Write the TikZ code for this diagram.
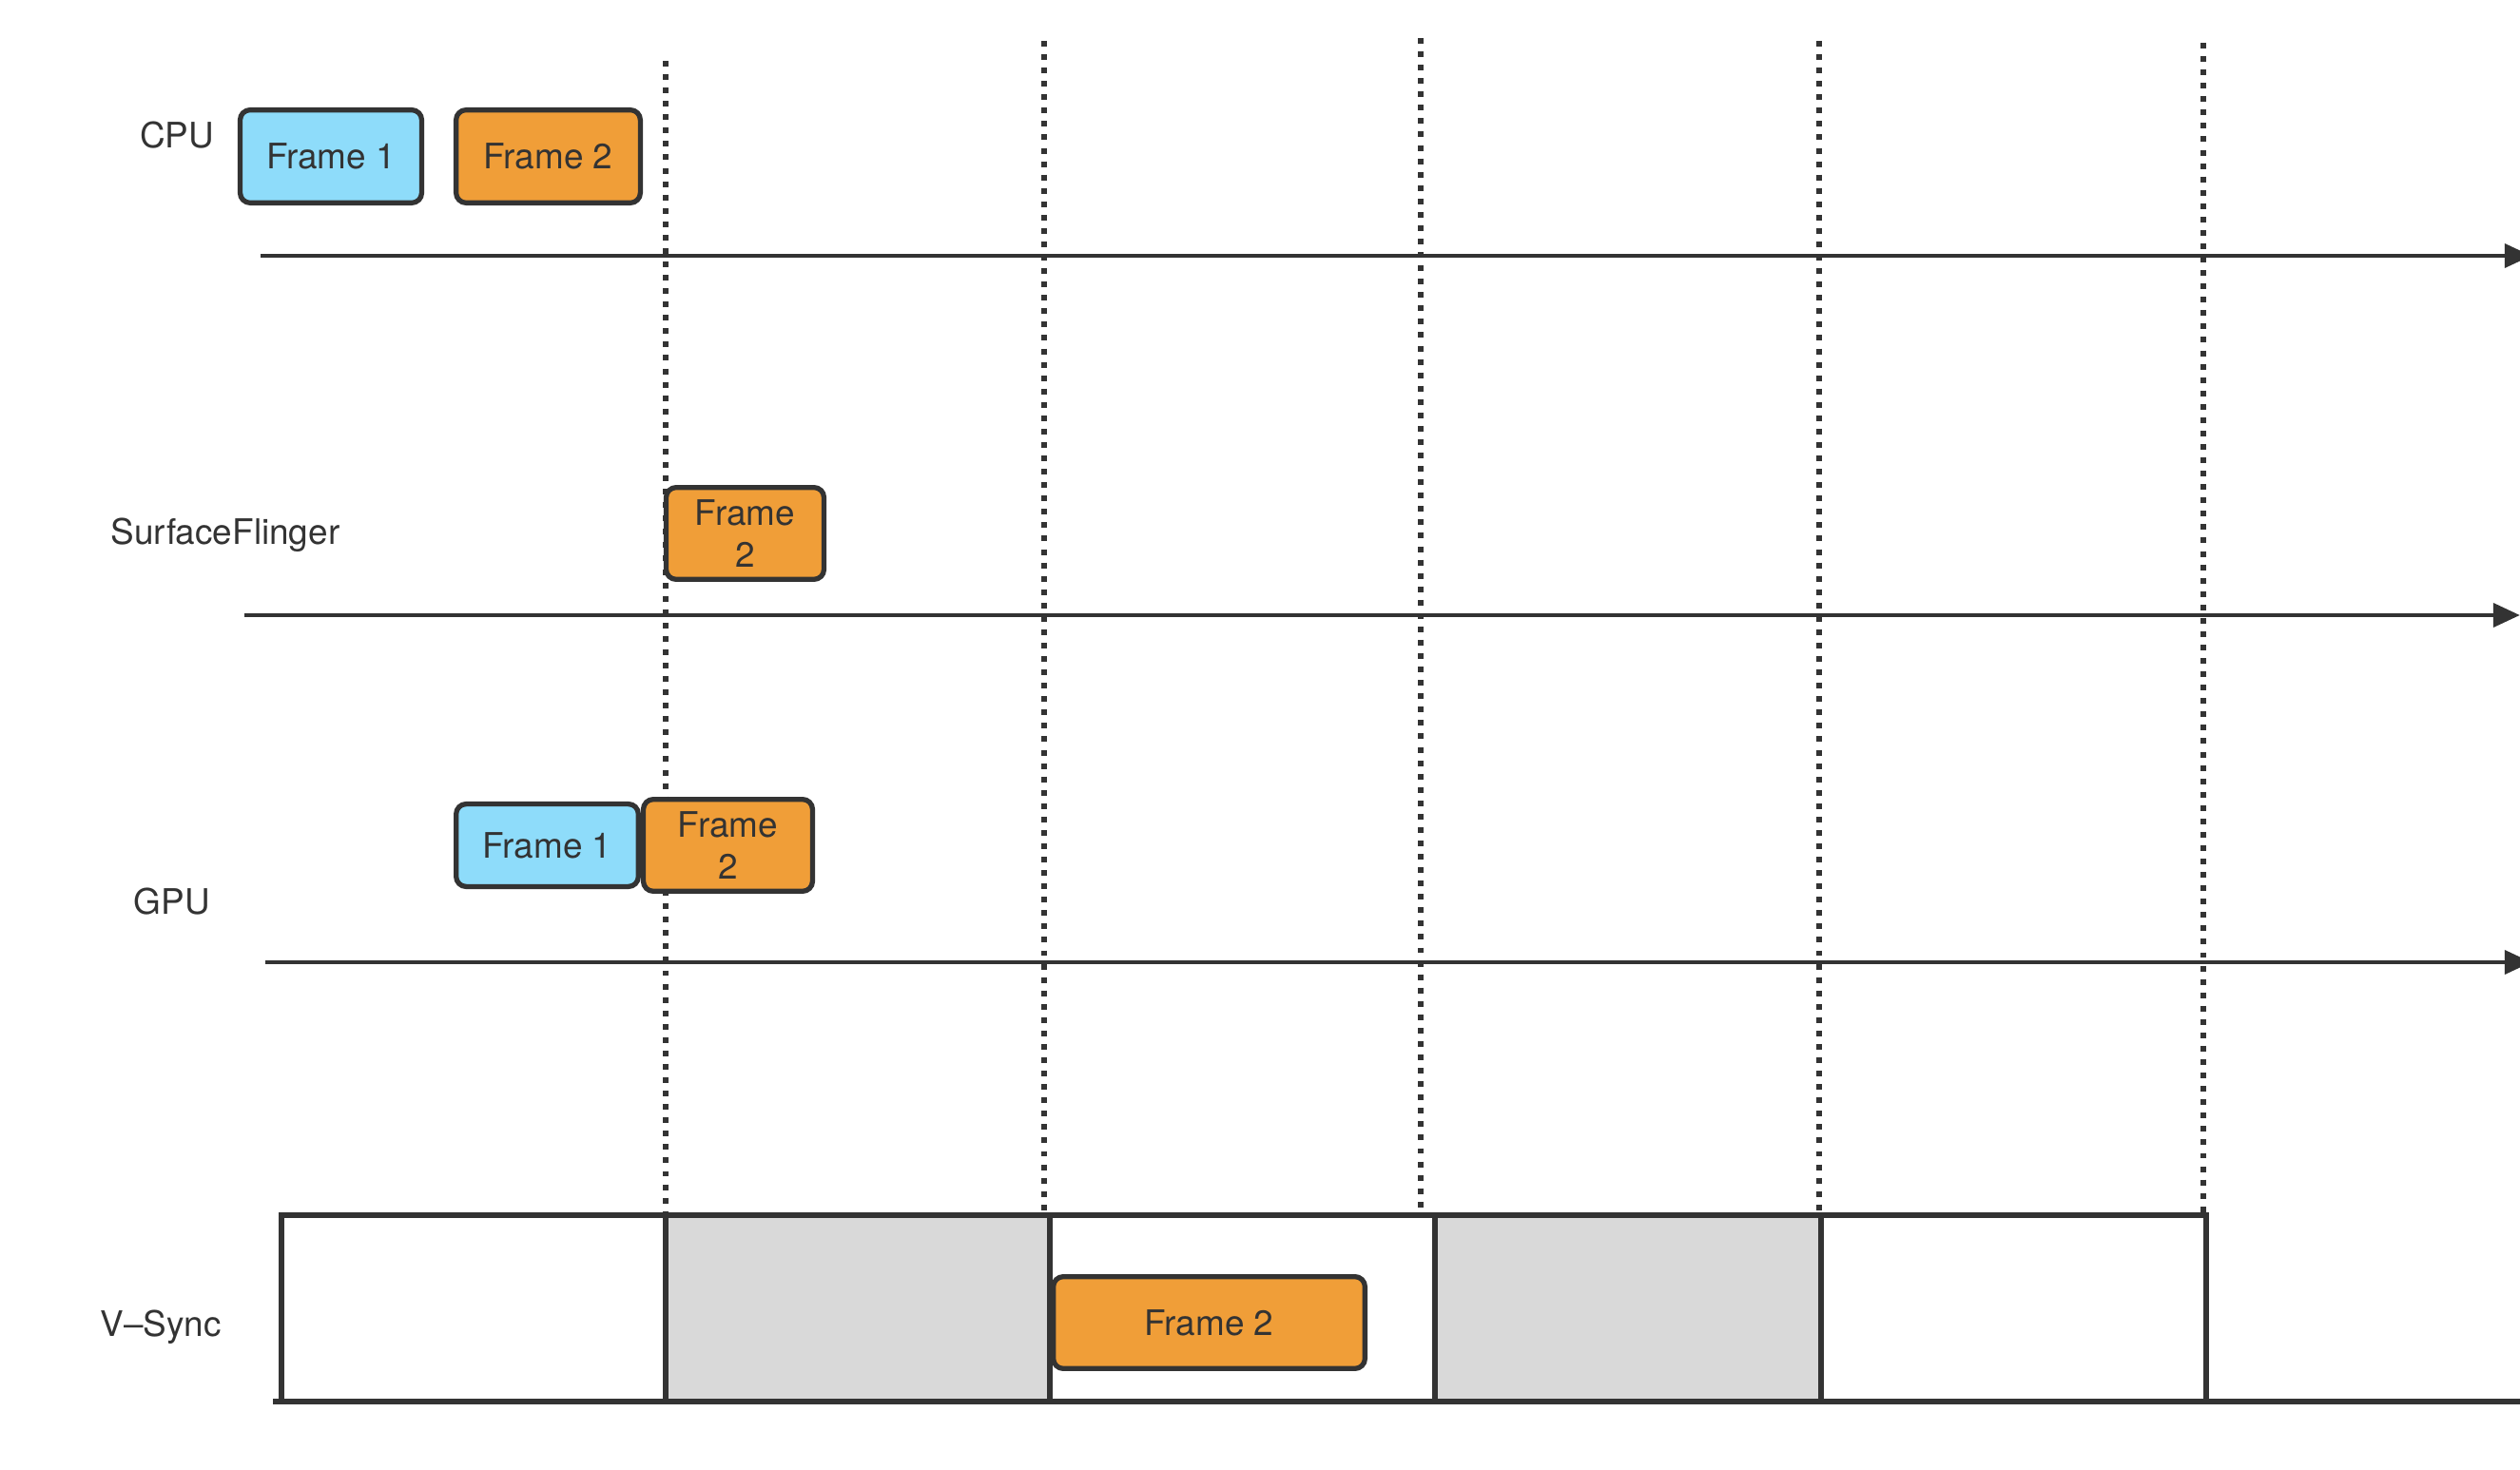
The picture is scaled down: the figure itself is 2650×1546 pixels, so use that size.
\documentclass[tikz,border=0pt]{standalone}
\usepackage{fontspec}
\setmainfont{TeX Gyre Heros}
\usetikzlibrary{arrows.meta}
\definecolor{ink}{HTML}{333333}
\definecolor{skyfill}{HTML}{8EDCFA}
\definecolor{orangefill}{HTML}{F09E38}
\definecolor{slotgray}{HTML}{D9D9D9}
\begin{document}
\begin{tikzpicture}[x=0.01cm,y=-0.01cm,
  font=\fontsize{10.5}{12.5}\selectfont, text=ink,
  lane/.style={inner sep=0pt},
  framebox/.style={draw=ink, line width=1.5pt, rounded corners=3pt,
    align=center, inner sep=0pt, outer sep=0pt},
  f1/.style={framebox, fill=skyfill},
  f2/.style={framebox, fill=orangefill},
  axis/.style={draw=ink, line width=1.4pt, -{Triangle[length=8pt,width=7pt]}},
  tick/.style={draw=ink, line width=1.7pt, line cap=butt,
    dash pattern=on 1.7pt off 2.3pt},
  slot/.style={draw=ink, line width=1.5pt, inner sep=0pt, outer sep=0pt,
    minimum height=55.8pt}
]
\useasboundingbox (0,0) rectangle (2650,1546);

% vertical sync ticks (drawn first so the frame boxes sit on top)
\coordinate (t1a) at (700,64);   \coordinate (t1b) at (700,1278);
\coordinate (t2a) at (1098,43);  \coordinate (t2b) at (1098,1278);
\coordinate (t3a) at (1494,40);  \coordinate (t3b) at (1494,1278);
\coordinate (t4a) at (1913,43);  \coordinate (t4b) at (1913,1278);
\coordinate (t5a) at (2317,45);  \coordinate (t5b) at (2317,1278);
\foreach \i in {1,...,5} \draw[tick] (t\i a) -- (t\i b);

% lane labels
\node[lane] (cpu)  at (186,142)  {CPU};
\node[lane] (sf)   at (237,563)  {SurfaceFlinger};
\node[lane] (gpu)  at (181,948)  {GPU};
\node[lane] (vs)   at (169,1396) {V–Sync};

% time axes
\coordinate (cpuS) at (274,269);  \coordinate (cpuE) at (2662,269);
\coordinate (sfS)  at (257,647);  \coordinate (sfE)  at (2650,647);
\coordinate (gpuS) at (279,1012); \coordinate (gpuE) at (2662,1012);
\draw[axis] (cpuS) -- (cpuE);
\draw[axis] (sfS) -- (sfE);
\draw[axis] (gpuS) -- (gpuE);

% V-Sync slots
\node[slot, minimum width=114.95pt]                 (v1) at (498,1376)  {};
\node[slot, minimum width=114.95pt, fill=slotgray]  (v2) at (902,1376)  {};
\node[slot, minimum width=115.2pt]                  (v3) at (1306.5,1376) {};
\node[slot, minimum width=115.5pt, fill=slotgray]   (v4) at (1712,1376) {};
\node[slot, minimum width=115.2pt]                  (v5) at (2117.5,1376) {};
\coordinate (baseS) at (287,1474);
\coordinate (baseE) at (2650,1474);
\draw[draw=ink, line width=1.5pt] (baseS) -- (baseE);

% CPU frames
\node[f1, minimum width=54.3pt, minimum height=27.8pt] (cpu1) at (348,164.5) {Frame 1};
\node[f2, minimum width=55.1pt, minimum height=27.8pt] (cpu2) at (576.5,164.5) {Frame 2};

% SurfaceFlinger frame
\node[f2, minimum width=47.2pt, minimum height=27.5pt] (sf2) at (783.5,561) {Frame\\2};

% GPU frames
\node[f1, minimum width=54.5pt, minimum height=24.7pt] (gpu1) at (575.5,889) {Frame 1};
\node[f2, minimum width=50.6pt, minimum height=27.5pt] (gpu2) at (765.5,889) {Frame\\2};

% displayed frame
\node[f2, minimum width=93.2pt, minimum height=27.5pt] (vs2) at (1271.5,1391) {Frame 2};
\end{tikzpicture}
\end{document}
